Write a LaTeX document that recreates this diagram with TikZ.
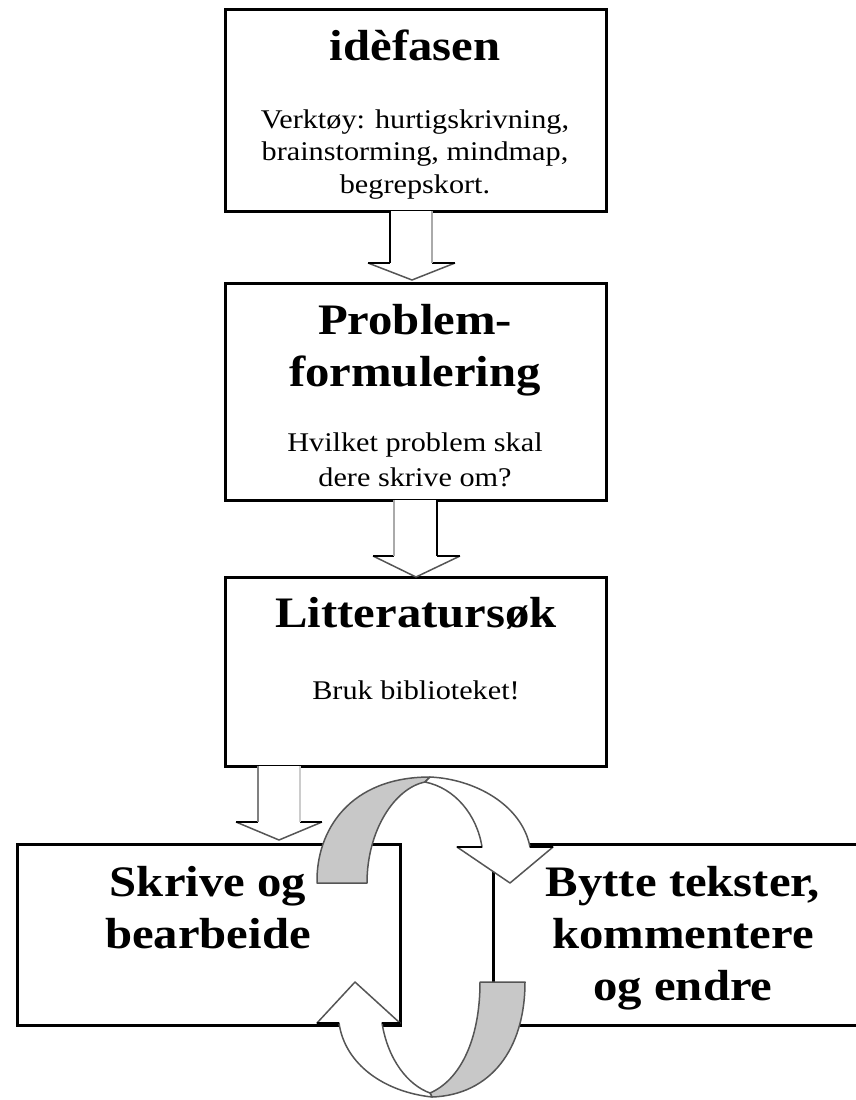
\documentclass[tikz,border=0pt]{standalone}
\usepackage{fontspec}
\setmainfont{Liberation Serif}[FakeStretch=1.12]
\usetikzlibrary{calc}
\definecolor{bandgray}{HTML}{C8C8C8}
\definecolor{edgegray}{HTML}{555555}
\definecolor{lightshaft}{HTML}{AAAAAA}
\tikzset{
  stagebox/.style={draw=black, line width=3pt, inner sep=0pt, outer sep=0pt},
  titletext/.style={anchor=base, inner sep=0pt, align=center, font=\fontsize{43.5}{52}\selectfont\bfseries},
  bodytext/.style={anchor=base, inner sep=0pt, align=center, font=\fontsize{27}{33}\selectfont},
  headedge/.style={draw=edgegray, line width=1.5pt, line join=round},
  headbase/.style={draw=black, line width=2.5pt},
  darkshaft/.style={draw=black, line width=2.5pt},
  paleshaft/.style={draw=lightshaft, line width=2.5pt},
  bandedge/.style={draw=edgegray, line width=1.5pt, line join=round},
}
\begin{document}
\begin{tikzpicture}[x=1pt, y=-1pt]
\useasboundingbox (0,0) rectangle (856,1100);
\clip (0,0) rectangle (856,1100);

% boxes
\node[stagebox, minimum width=381pt, minimum height=202pt] (B1) at (415.5,110) {};
\node[stagebox, minimum width=381pt, minimum height=217pt] (B2) at (415.5,391.5) {};
\node[stagebox, minimum width=381pt, minimum height=189pt] (B3) at (415.5,671.5) {};
\node[stagebox, minimum width=383pt, minimum height=181pt] (B4) at (208.5,934.5) {};
\node[stagebox, minimum width=400pt, minimum height=181pt] (B5) at (693,934.5) {};

% texts (anchor base = baseline of the last line)
\node[titletext] (T1) at (415,60) {idèfasen};
\node[bodytext, font=\fontsize{27}{32.5}\selectfont] (D1) at (415,193) {Verktøy: hurtigskrivning,\\brainstorming, mindmap,\\begrepskort.};
\node[titletext] (T2) at (415,386) {Problem-\\formulering};
\node[bodytext, font=\fontsize{27}{35}\selectfont] (D2) at (415,486) {Hvilket problem skal\\dere skrive om?};
\node[titletext] (T3) at (416,627) {Litteratursøk};
\node[bodytext] (D3) at (416,699) {Bruk biblioteket!};
\node[titletext] (T4) at (208,948) {Skrive og\\bearbeide};
\node[titletext] (T5) at (683,1000) {Bytte tekster,\\kommentere\\og endre};

% hollow arrow 1 (B1 -> B2)
\coordinate (a1l) at (390,211);
\coordinate (a1r) at (432,211);
\coordinate (a1tip) at (412,280);
\fill[white] (a1l) -- (390,263) -- (368,263) -- (a1tip) -- (455,263) -- (432,263) -- (a1r) -- cycle;
\draw[headedge] (368,263) -- (a1tip) -- (455,263);
\draw[headbase] (368,263) -- (390,263) (432,263) -- (455,263);
\draw[darkshaft] (a1l) -- (390,263);
\draw[paleshaft] (a1r) -- (432,263);

% hollow arrow 2 (B2 -> B3)
\coordinate (a2l) at (394,500);
\coordinate (a2r) at (437,500);
\coordinate (a2tip) at (416,577);
\fill[white] (a2l) -- (394,556) -- (373,556) -- (a2tip) -- (460,556) -- (437,556) -- (a2r) -- cycle;
\draw[headedge] (373,556) -- (a2tip) -- (460,556);
\draw[headbase] (373,556) -- (394,556) (437,556) -- (460,556);
\draw[paleshaft] (a2l) -- (394,556);
\draw[darkshaft] (a2r) -- (437,556);

% hollow arrow 3 (B3 -> B4)
\coordinate (a3l) at (258,766);
\coordinate (a3r) at (300,766);
\coordinate (a3tip) at (279,840);
\fill[white] (a3l) -- (258,822) -- (236,822) -- (a3tip) -- (322,822) -- (300,822) -- (a3r) -- cycle;
\draw[headedge] (236,822) -- (a3tip) -- (322,822);
\draw[headbase] (236,822) -- (258,822) (300,822) -- (322,822);
\draw[draw=gray, line width=2.5pt] (a3l) -- (258,822);
\draw[draw=lightshaft!60, line width=2.5pt] (a3r) -- (300,822);

% circular arrow, top part (B4 -> B5)
\coordinate (c1a) at (317,883);
\coordinate (c1top) at (430,777);
\coordinate (c1tip) at (510,883);
\filldraw[fill=bandgray, bandedge] (c1a) .. controls (316,830) and (350,777) .. (c1top)
   -- (425,782) .. controls (395,788) and (367,830) .. (367,883) -- cycle;
\filldraw[fill=white, bandedge] (c1top) .. controls (475,779) and (522,805) .. (530,847)
   -- (553,847) -- (c1tip) -- (457,847) -- (482,847)
   .. controls (477,815) and (455,788) .. (425,782) -- cycle;
\draw[headbase] (457,847) -- (482,847) (530,847) -- (553,847);

% circular arrow, bottom part (B5 -> B4)
\coordinate (c2a) at (525,982);
\coordinate (c2bot) at (432,1097);
\coordinate (c2tip) at (355,982);
\filldraw[fill=bandgray, bandedge] (480,982) -- (c2a) .. controls (525,1050) and (490,1095) .. (c2bot)
   -- (430,1093) .. controls (460,1080) and (480,1040) .. (480,982) -- cycle;
\filldraw[fill=white, bandedge] (c2bot) .. controls (385,1092) and (345,1065) .. (339,1023)
   -- (317,1023) -- (c2tip) -- (400,1023) -- (382,1023)
   .. controls (388,1060) and (408,1085) .. (430,1093) -- cycle;
\draw[headbase] (317,1023) -- (339,1023) (382,1023) -- (400,1023);
\end{tikzpicture}
\end{document}
